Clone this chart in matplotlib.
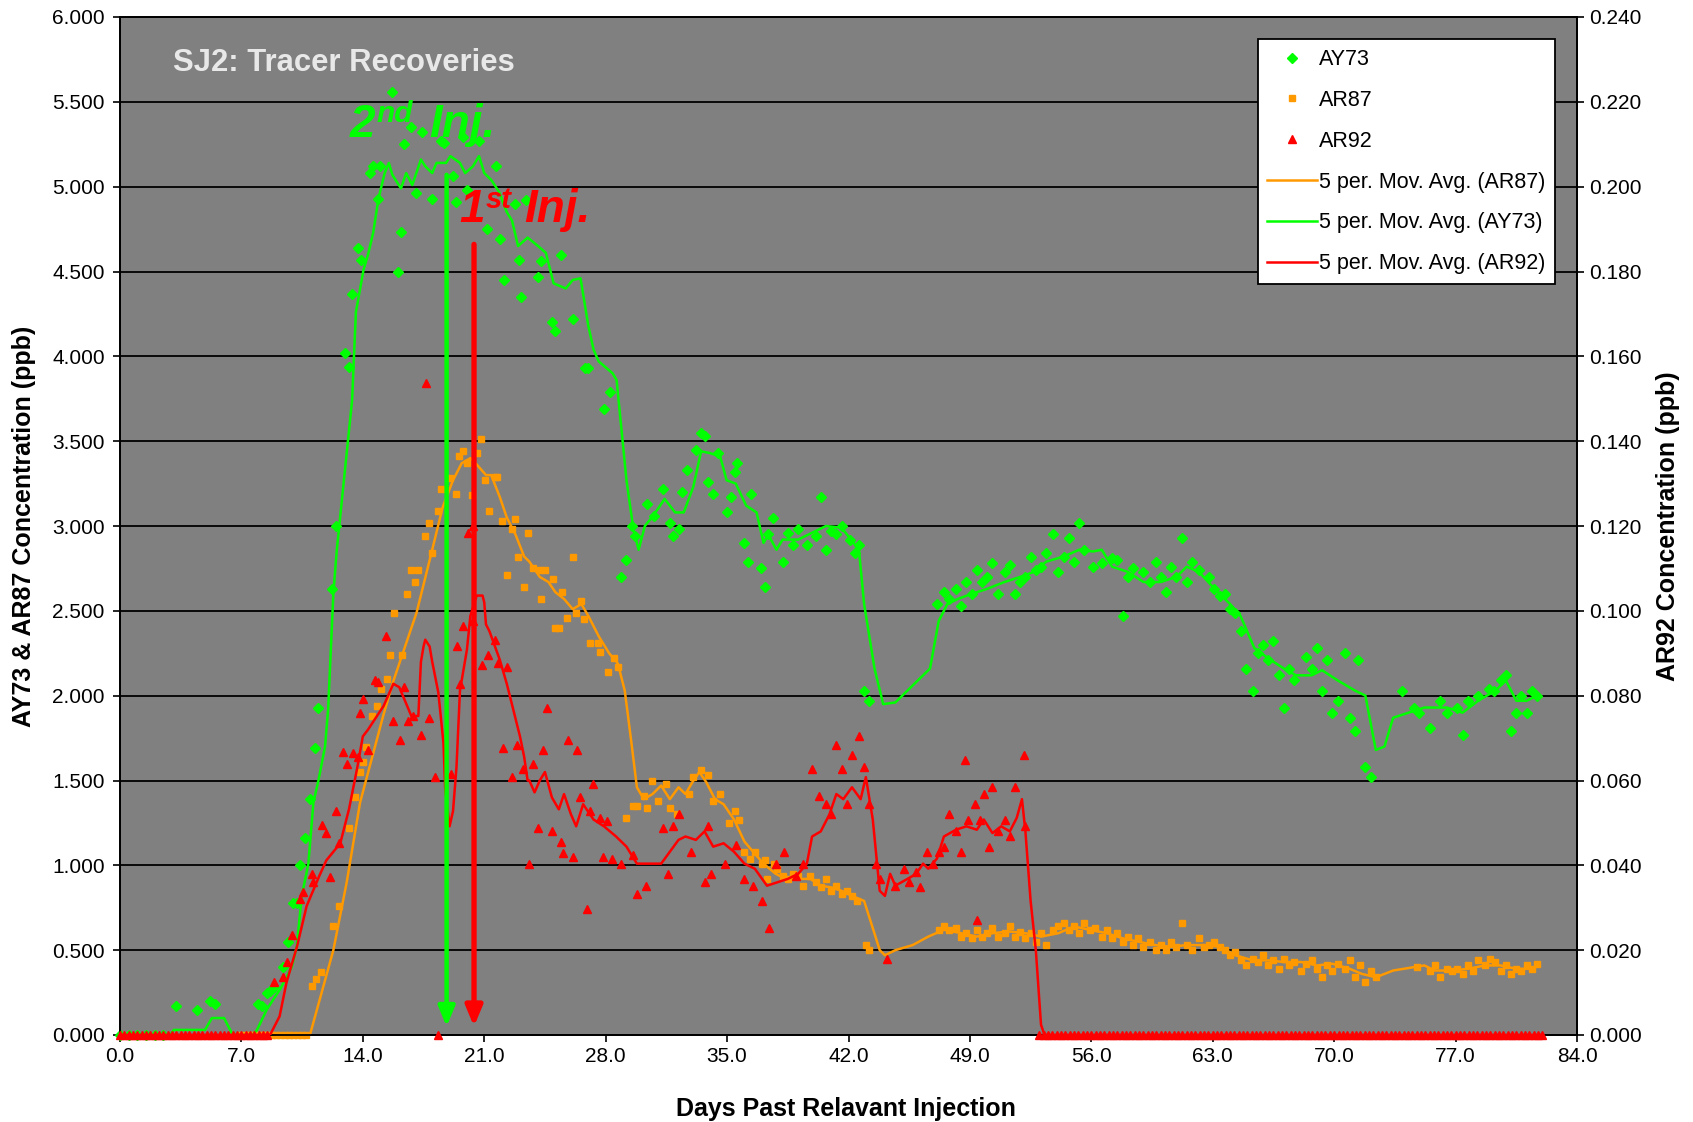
import numpy as np
import matplotlib
matplotlib.use("Agg")
import matplotlib.pyplot as plt

plt.rcParams['font.family'] = ['Liberation Sans', 'DejaVu Sans']

GREEN = '#00FF00'
ORANGE = '#FF9900'
RED = '#FF0000'
BG = '#808080'

# ---------------- data ----------------
# AY73 (left axis, ppb)
ay73_days = [0.0, 0.5, 1.0, 1.5, 2.0, 2.5,
             3.24, 4.42, 5.2, 5.45, 7.98, 8.17, 8.46, 8.65, 8.88, 9.38, 9.71, 10.0, 10.19, 10.38,
             10.67, 10.96, 11.25, 11.44, 12.21, 12.44, 13.0, 13.2, 13.4, 13.75, 13.9, 14.4, 14.6,
             14.9, 15.0, 15.7, 16.0, 16.2, 16.4, 16.75, 17.05, 17.4, 18.0, 18.5, 18.7, 19.2, 19.4,
             19.8, 20.0, 20.7, 21.15, 21.7, 21.9, 22.15, 22.8, 23.0, 23.1, 23.4, 24.1, 24.3, 24.9,
             25.1, 25.45, 26.1, 26.8, 27.0, 27.9, 28.24, 28.86, 29.2, 29.5, 29.7, 30.4, 30.8, 31.3,
             31.7, 31.9, 32.2, 32.4, 32.7, 33.2, 33.5, 33.7, 33.9, 34.2, 34.5, 34.97, 35.2, 35.45,
             35.6, 35.99, 36.2, 36.4, 36.98, 37.2, 37.37, 37.66, 38.2, 38.5, 38.8, 39.1, 39.6, 40.1,
             40.4, 40.7, 41.0, 41.3, 41.6, 42.1, 42.4, 42.6, 42.9, 43.2,
             47.1, 47.5, 47.8, 48.2, 48.5, 48.8, 49.1, 49.4, 49.7, 50.0, 50.3, 50.6, 51.0, 51.3,
             51.6, 51.9, 52.2, 52.5, 52.8, 53.1, 53.4, 53.8, 54.1, 54.4, 54.7, 55.0, 55.3, 55.6,
             56.1, 56.6, 57.2, 57.5, 57.8, 58.1, 58.4, 59.0, 59.4, 59.7, 60.0, 60.3, 60.6, 60.9,
             61.2, 61.5, 61.8, 62.2, 62.8, 63.1, 63.4, 63.7, 64.0, 64.3, 64.6, 64.9, 65.3, 65.6,
             65.9, 66.2, 66.5, 66.8, 67.1, 67.4, 67.7, 68.4, 68.7, 69.0, 69.3, 69.6, 69.9, 70.2,
             70.6, 70.9, 71.2, 71.4, 71.8, 72.1, 73.9, 74.6, 74.9, 75.5, 76.1, 76.5, 77.1, 77.4,
             77.7, 78.3, 78.9, 79.2, 79.6, 79.9, 80.2, 80.5, 80.8, 81.1, 81.4, 81.7]
ay73_vals = [0.0, 0.0, 0.0, 0.0, 0.0, 0.0,
             0.17, 0.145, 0.20, 0.18, 0.18, 0.17, 0.25, 0.26, 0.28, 0.40, 0.55, 0.78, 0.78, 1.0,
             1.16, 1.39, 1.69, 1.93, 2.63, 3.0, 4.02, 3.94, 4.37, 4.64, 4.57, 5.08, 5.12,
             4.93, 5.12, 5.56, 4.50, 4.73, 5.25, 5.35, 4.96, 5.32, 4.93, 5.27, 5.26, 5.06, 4.91,
             5.29, 4.98, 5.27, 4.75, 5.12, 4.69, 4.45, 4.90, 4.57, 4.35, 4.92, 4.47, 4.56, 4.20,
             4.15, 4.60, 4.22, 3.93, 3.93, 3.69, 3.79, 2.70, 2.80, 3.0, 2.94, 3.13, 3.06, 3.22,
             3.02, 2.94, 2.98, 3.20, 3.33, 3.45, 3.55, 3.53, 3.26, 3.19, 3.43, 3.08, 3.17, 3.32,
             3.37, 2.90, 2.79, 3.19, 2.75, 2.64, 2.95, 3.05, 2.79, 2.96, 2.89, 2.98, 2.89, 2.94,
             3.17, 2.86, 2.97, 2.95, 3.0, 2.92, 2.84, 2.89, 2.03, 1.97,
             2.54, 2.61, 2.57, 2.63, 2.53, 2.67, 2.60, 2.74, 2.67, 2.70, 2.78, 2.60, 2.73, 2.77,
             2.60, 2.67, 2.70, 2.82, 2.74, 2.76, 2.84, 2.95, 2.73, 2.82, 2.93, 2.79, 3.02, 2.86,
             2.76, 2.78, 2.81, 2.80, 2.47, 2.70, 2.75, 2.73, 2.67, 2.79, 2.70, 2.61, 2.76, 2.70,
             2.93, 2.67, 2.79, 2.74, 2.70, 2.63, 2.59, 2.60, 2.51, 2.49, 2.38, 2.16, 2.03, 2.25,
             2.30, 2.21, 2.32, 2.12, 1.93, 2.16, 2.09, 2.23, 2.16, 2.28, 2.03, 2.21, 1.90, 1.97,
             2.25, 1.87, 1.79, 2.21, 1.58, 1.52, 2.03, 1.93, 1.90, 1.81, 1.97, 1.90, 1.93, 1.77,
             1.97, 2.00, 2.04, 2.03, 2.09, 2.12, 1.79, 1.90, 2.00, 1.90, 2.03, 2.00]

ay73_ma_days = [0.0, 2.9, 3.1, 4.9, 5.3, 6.0, 6.5, 7.65, 7.9, 8.46, 9.23, 9.9, 10.19, 10.48, 10.86,
                11.15, 11.44, 11.82, 12.0, 12.3, 12.5, 13.38, 13.6, 14.04, 14.3, 14.6, 14.9, 15.26,
                15.5, 15.7, 16.2, 16.5, 16.85, 17.35, 17.6, 18.0, 18.25, 18.8, 19.05, 19.6, 19.9,
                20.35, 20.7, 21.0, 21.4, 21.85, 22.3, 22.6, 22.95, 23.5, 24.1, 24.55, 25.0, 25.7,
                26.1, 26.55, 27.0, 27.3, 27.6, 28.4, 28.63, 29.2, 29.6, 29.9, 30.26, 30.74, 31.4,
                32.0, 32.5, 33.05, 33.5, 34.0, 34.6, 34.97, 35.5, 36.1, 36.7, 37.1, 37.37, 37.85,
                38.2, 39.1, 40.1, 40.7, 41.6, 42.6, 42.9, 43.5, 44.0, 44.7, 46.7, 47.2, 47.7, 48.3,
                49.1, 50.0, 51.0, 51.9, 52.7, 53.4, 54.4, 55.3, 56.1, 56.6, 57.2, 58.1, 59.0, 60.0,
                60.9, 61.5, 62.2, 63.1, 64.0, 64.6, 65.4, 66.2, 67.1, 67.8, 68.7, 69.3, 70.2, 71.2,
                71.8, 72.4, 72.9, 73.4, 74.3, 75.2, 76.5, 77.4, 78.3, 79.3, 79.9, 80.5, 81.1, 81.7]
ay73_ma_vals = [0.0, 0.0, 0.03, 0.03, 0.10, 0.10, 0.0, 0.0, 0.03, 0.15, 0.27, 0.40, 0.52, 0.82, 1.01,
                1.37, 1.50, 1.70, 1.92, 2.60, 2.86, 3.74, 4.26, 4.51, 4.60, 4.73, 4.93, 5.08,
                5.14, 5.07, 4.99, 5.08, 5.01, 5.16, 5.12, 5.08, 5.14, 5.14, 5.18, 5.14, 5.08,
                5.12, 5.18, 5.08, 5.04, 4.97, 4.85, 4.80, 4.65, 4.70, 4.65, 4.61, 4.43, 4.40,
                4.45, 4.46, 4.18, 4.04, 3.97, 3.90, 3.86, 3.27, 2.98, 2.86, 3.00, 3.06, 3.16,
                3.08, 3.08, 3.23, 3.44, 3.43, 3.41, 3.27, 3.25, 3.12, 3.08, 2.90, 2.95, 2.86,
                2.92, 2.92, 2.97, 3.00, 2.99, 2.86, 2.54, 2.16, 1.95, 1.96, 2.16, 2.44, 2.54, 2.57,
                2.60, 2.63, 2.67, 2.70, 2.73, 2.79, 2.82, 2.86, 2.85, 2.86, 2.76, 2.73, 2.67, 2.67,
                2.70, 2.76, 2.73, 2.63, 2.54, 2.47, 2.28, 2.22, 2.16, 2.12, 2.12, 2.15, 2.09, 2.03,
                2.00, 1.68, 1.70, 1.87, 1.90, 1.93, 1.93, 1.90, 1.97, 2.03, 2.09, 1.97, 1.97, 2.00]

# AR87 (left axis, ppb)
ar87_days = [7.0, 7.25, 7.5, 7.75, 8.0, 8.25, 8.5, 8.75, 9.0, 9.25, 9.5, 9.75, 10.0, 10.25, 10.5, 10.75,
             11.05, 11.3, 11.6, 12.3, 12.65, 13.2, 13.55, 13.84, 14.0, 14.2, 14.55, 14.8, 15.05,
             15.4, 15.57, 15.8, 16.24, 16.57, 16.8, 17.0, 17.2, 17.6, 17.8, 18.0, 18.35, 18.5,
             19.0, 19.4, 19.56, 19.8, 20.0, 20.27, 20.6, 20.8, 21.04, 21.3, 21.6, 21.75, 22.0,
             22.3, 22.6, 22.8, 22.96, 23.3, 23.5, 23.8, 24.2, 24.3, 24.5, 24.98, 25.1, 25.3, 25.5,
             25.75, 26.1, 26.3, 26.55, 26.75, 27.1, 27.57, 27.7, 28.15, 28.5, 28.7, 29.17, 29.6,
             29.8, 30.2, 30.4, 30.7, 31.03, 31.5, 31.7, 32.1, 32.8, 33.05, 33.47, 33.9, 34.2, 34.6,
             35.1, 35.45, 35.7, 36.0, 36.3, 36.6, 37.0, 37.2, 37.3, 37.7, 37.9, 38.2, 38.5, 38.8,
             39.1, 39.4, 39.8, 40.1, 40.4, 40.7, 41.0, 41.3, 41.6, 41.9, 42.2, 42.5, 43.0, 43.2,
             47.2, 47.5, 47.8, 48.2, 48.5, 48.8, 49.1, 49.4, 49.7, 50.0, 50.3, 50.6, 51.0, 51.3,
             51.6, 51.9, 52.2, 52.5, 52.8, 53.1, 53.4, 53.8, 54.1, 54.4, 54.7, 55.0, 55.3, 55.6,
             55.9, 56.2, 56.6, 56.9, 57.2, 57.5, 57.8, 58.1, 58.4, 58.7, 59.0, 59.4, 59.7, 60.0,
             60.3, 60.6, 60.9, 61.2, 61.5, 61.8, 62.2, 62.5, 62.8, 63.1, 63.4, 63.7, 64.0, 64.3,
             64.6, 64.9, 65.3, 65.6, 65.9, 66.2, 66.5, 66.8, 67.1, 67.4, 67.7, 68.1, 68.4, 68.7,
             69.0, 69.3, 69.6, 69.9, 70.2, 70.6, 70.9, 71.2, 71.5, 71.8, 72.1, 72.4, 74.8, 75.5,
             75.8, 76.1, 76.5, 76.8, 77.1, 77.4, 77.7, 78.0, 78.3, 78.7, 79.0, 79.3, 79.6, 79.9,
             80.2, 80.5, 80.8, 81.1, 81.4, 81.7]
ar87_vals = [0.0, 0.0, 0.0, 0.0, 0.0, 0.0, 0.0, 0.0, 0.0, 0.0, 0.0, 0.0, 0.0, 0.0, 0.0, 0.0,
             0.29, 0.33, 0.37, 0.645, 0.76, 1.22, 1.40, 1.55, 1.61, 1.70, 1.88, 1.94, 2.04,
             2.10, 2.24, 2.49, 2.24, 2.60, 2.74, 2.67, 2.74, 2.94, 3.02, 2.84, 3.09, 3.22,
             3.28, 3.19, 3.41, 3.44, 3.37, 3.18, 3.43, 3.51, 3.27, 3.09, 3.29, 3.29, 3.03,
             2.71, 2.98, 3.04, 2.82, 2.64, 2.96, 2.75, 2.74, 2.57, 2.74, 2.69, 2.40, 2.40, 2.61,
             2.46, 2.82, 2.49, 2.56, 2.45, 2.31, 2.31, 2.26, 2.14, 2.22, 2.17, 1.28, 1.35,
             1.35, 1.41, 1.34, 1.50, 1.38, 1.48, 1.34, 1.30, 1.42, 1.52, 1.56, 1.53, 1.38, 1.42,
             1.25, 1.32, 1.27, 1.08, 1.04, 1.08, 1.01, 1.03, 0.92, 1.01, 0.98, 0.94, 0.92, 0.95,
             0.94, 0.88, 0.94, 0.90, 0.87, 0.92, 0.85, 0.88, 0.83, 0.85, 0.82, 0.79, 0.53, 0.50,
             0.62, 0.64, 0.62, 0.63, 0.58, 0.60, 0.57, 0.62, 0.58, 0.60, 0.63, 0.58, 0.60, 0.64,
             0.58, 0.61, 0.57, 0.60, 0.55, 0.60, 0.53, 0.62, 0.64, 0.66, 0.62, 0.64, 0.60, 0.66,
             0.62, 0.63, 0.58, 0.62, 0.57, 0.60, 0.55, 0.58, 0.53, 0.57, 0.52, 0.55, 0.50, 0.53,
             0.50, 0.55, 0.52, 0.66, 0.53, 0.50, 0.57, 0.52, 0.53, 0.55, 0.52, 0.50, 0.47, 0.49,
             0.44, 0.41, 0.45, 0.43, 0.47, 0.41, 0.44, 0.39, 0.45, 0.41, 0.43, 0.38, 0.42, 0.44,
             0.39, 0.34, 0.41, 0.38, 0.42, 0.39, 0.44, 0.34, 0.41, 0.31, 0.38, 0.34, 0.40, 0.38,
             0.41, 0.34, 0.39, 0.38, 0.39, 0.36, 0.41, 0.38, 0.44, 0.41, 0.45, 0.43, 0.38, 0.41,
             0.36, 0.39, 0.38, 0.41, 0.39, 0.42]

ar87_ma_days = [7.0, 10.95, 12.3, 13.07, 13.84, 15.17, 15.74, 17.1, 18.0, 18.6, 19.2, 19.7, 20.2,
                20.5, 21.1, 21.4, 21.9, 22.3, 22.8, 23.3, 23.6, 24.2, 24.7, 25.1, 25.6, 26.1, 26.6,
                27.0, 27.6, 28.2, 28.7, 29.1, 29.5, 29.8, 30.2, 30.7, 31.2, 31.7, 32.2, 32.6, 33.0,
                33.4, 33.8, 34.3, 34.8, 35.4, 36.0, 36.5, 37.1, 37.8, 38.4, 39.1, 39.8, 40.4, 41.0,
                41.6, 42.2, 42.9, 43.4, 43.8, 44.1, 44.7, 45.7, 46.6, 47.5, 48.5, 49.4, 50.3, 51.3,
                52.2, 53.1, 54.1, 55.0, 55.9, 56.9, 57.8, 58.7, 59.7, 60.6, 61.5, 62.5, 63.4, 64.3,
                65.3, 66.2, 67.1, 68.1, 69.0, 69.9, 70.9, 71.6, 72.4, 73.4, 74.0, 75.2, 75.8, 76.8,
                77.7, 78.7, 79.6, 80.5, 81.4, 81.7]
ar87_ma_vals = [0.0, 0.0, 0.50, 0.90, 1.37, 1.88, 2.08, 2.49, 2.86, 3.11, 3.27, 3.37, 3.40,
                3.37, 3.30, 3.30, 3.17, 3.05, 2.95, 2.82, 2.79, 2.70, 2.67, 2.61, 2.57, 2.51, 2.54,
                2.47, 2.35, 2.25, 2.19, 2.03, 1.71, 1.46, 1.39, 1.42, 1.47, 1.39, 1.46, 1.42, 1.49,
                1.55, 1.49, 1.39, 1.36, 1.27, 1.14, 1.08, 1.01, 0.95, 0.92, 0.92, 0.92, 0.88, 0.87,
                0.85, 0.82, 0.79, 0.63, 0.50, 0.47, 0.50, 0.53, 0.58, 0.62, 0.60, 0.58, 0.60, 0.61,
                0.60, 0.58, 0.60, 0.64, 0.62, 0.60, 0.57, 0.55, 0.53, 0.52, 0.53, 0.53, 0.52, 0.47,
                0.44, 0.44, 0.43, 0.43, 0.41, 0.42, 0.39, 0.36, 0.34, 0.38, 0.39, 0.41, 0.38, 0.38,
                0.39, 0.41, 0.41, 0.39, 0.39, 0.41]

# AR92 (right axis, ppb): zero readings before breakthrough, measured values, zero readings after
ar92_early_zero_days = [0.0, 0.25, 0.5, 0.75, 1.0, 1.25, 1.5, 1.75, 2.0, 2.25, 2.5, 2.75, 3.0, 3.25,
                        3.5, 3.75, 4.0, 4.25, 4.5, 4.75, 5.0, 5.25, 5.5, 5.75, 6.0, 6.25, 6.5, 6.75,
                        7.0, 7.25, 7.5, 7.75, 8.0, 8.25, 8.5]
ar92_late_zero_days = [53.0, 53.25, 53.5, 53.75, 54.0, 54.25, 54.5, 54.75, 55.0, 55.25, 55.5, 55.75,
                       56.0, 56.25, 56.5, 56.75, 57.0, 57.25, 57.5, 57.75, 58.0, 58.25, 58.5, 58.75,
                       59.0, 59.25, 59.5, 59.75, 60.0, 60.25, 60.5, 60.75, 61.0, 61.25, 61.5, 61.75,
                       62.0, 62.25, 62.5, 62.75, 63.0, 63.25, 63.5, 63.75, 64.0, 64.25, 64.5, 64.75,
                       65.0, 65.25, 65.5, 65.75, 66.0, 66.25, 66.5, 66.75, 67.0, 67.25, 67.5, 67.75,
                       68.0, 68.25, 68.5, 68.75, 69.0, 69.25, 69.5, 69.75, 70.0, 70.25, 70.5, 70.75,
                       71.0, 71.25, 71.5, 71.75, 72.0, 72.25, 72.5, 72.75, 73.0, 73.25, 73.5, 73.75,
                       74.0, 74.25, 74.5, 74.75, 75.0, 75.25, 75.5, 75.75, 76.0, 76.25, 76.5, 76.75,
                       77.0, 77.25, 77.5, 77.75, 78.0, 78.25, 78.5, 78.75, 79.0, 79.25, 79.5, 79.75,
                       80.0, 80.25, 80.5, 80.75, 81.0, 81.25, 81.5, 81.75, 82.0]
ar92_days = [8.85, 9.38, 9.6, 9.9, 10.38, 10.57, 11.05, 11.15, 11.63, 11.88, 12.11, 12.44, 12.6,
             12.84, 13.1, 13.46, 13.74, 13.84, 14.03, 14.32, 14.7, 14.9, 15.34, 15.76, 16.15,
             16.38, 16.63, 16.91, 17.34, 17.64, 17.84, 18.16, 18.35, 19.1, 19.41, 19.6, 19.8,
             20.08, 20.33, 20.37, 20.85, 21.2, 21.6, 21.8, 22.1, 22.3, 22.6, 22.9, 23.25, 23.6,
             23.8, 24.1, 24.4, 24.6, 24.9, 25.4, 25.55, 25.84, 26.1, 26.36, 26.5, 26.9, 27.1,
             27.28, 27.7, 27.86, 28.05, 28.34, 28.9, 29.6, 29.8, 30.3, 31.3, 31.6, 31.9, 32.2,
             32.9, 33.7, 33.9, 34.1, 34.9, 35.5, 36.0, 36.5, 37.0, 37.4, 37.8, 38.3, 39.0, 39.4,
             39.9, 40.3, 40.7, 41.0, 41.3, 41.6, 41.9, 42.2, 42.6, 42.9, 43.2, 43.6, 43.8, 44.2,
             44.7, 45.2, 45.5, 45.9, 46.1, 46.5, 46.9, 47.2, 47.5, 47.8, 48.2, 48.5, 48.7, 48.9,
             49.3, 49.4, 49.6, 49.8, 50.1, 50.3, 50.6, 51.0, 51.3, 51.6, 52.1, 52.2]
ar92_vals = [0.0124, 0.0136, 0.0172, 0.0236, 0.0320, 0.0336, 0.0380, 0.0360, 0.0496, 0.0476, 0.0372,
             0.0528, 0.0452, 0.0668, 0.0640, 0.0664, 0.0656, 0.0760, 0.0792, 0.0672, 0.0836,
             0.0832, 0.0940, 0.0740, 0.0696, 0.0820, 0.0740, 0.0752, 0.0708, 0.1536, 0.0748,
             0.0608, 0.0, 0.0616, 0.0916, 0.0828, 0.0964, 0.1184, 0.1200, 0.0976, 0.0872,
             0.0896, 0.0932, 0.0876, 0.0676, 0.0868, 0.0608, 0.0684, 0.0628, 0.0404, 0.0640,
             0.0488, 0.0672, 0.0772, 0.0480, 0.0456, 0.0428, 0.0696, 0.0420, 0.0672, 0.0560,
             0.0296, 0.0528, 0.0592, 0.0512, 0.0420, 0.0504, 0.0416, 0.0404, 0.0424, 0.0332,
             0.0352, 0.0488, 0.0380, 0.0492, 0.0520, 0.0432, 0.0360, 0.0492, 0.0380, 0.0404,
             0.0448, 0.0368, 0.0352, 0.0316, 0.0252, 0.0404, 0.0432, 0.0376, 0.0404, 0.0628,
             0.0564, 0.0544, 0.0520, 0.0684, 0.0628, 0.0544, 0.0660, 0.0704, 0.0632, 0.0544,
             0.0404, 0.0368, 0.0180, 0.0352, 0.0392, 0.0360, 0.0384, 0.0348, 0.0432, 0.0404,
             0.0432, 0.0444, 0.0520, 0.0480, 0.0432, 0.0648, 0.0508, 0.0544, 0.0272, 0.0508,
             0.0568, 0.0444, 0.0584, 0.0480, 0.0508, 0.0468, 0.0584, 0.0660, 0.0492]

ar92_ma_days = [0.0, 8.65, 9.2, 9.6, 10.2, 10.76, 11.5, 11.9, 12.7, 13.2, 13.65, 14.0, 14.3, 15.2,
                15.76, 16.1, 16.8, 17.2, 17.35, 17.5, 17.6, 17.85, 18.0, 18.35, 18.65, 18.75, 19.0,
                19.2, 19.4, 19.6, 20.0, 20.2, 20.56, 20.9, 21.0, 21.1, 21.3, 21.9, 22.3, 23.06,
                23.3, 23.5, 23.6, 23.9, 24.2, 24.5, 24.9, 25.3, 25.6, 26.0, 26.3, 26.7, 27.3, 27.9,
                28.6, 29.2, 29.8, 30.4, 31.2, 31.7, 32.2, 32.6, 33.2, 33.7, 34.2, 34.8, 35.4, 36.0,
                36.6, 37.3, 37.9, 38.5, 39.1, 39.6, 39.9, 40.4, 40.9, 41.3, 41.7, 42.2, 42.7, 43.0,
                43.4, 43.8, 44.1, 44.4, 44.7, 45.4, 45.9, 46.3, 46.6, 47.1, 47.5, 48.2, 48.8, 49.4,
                49.8, 50.3, 50.8, 51.3, 51.7, 52.0, 52.2, 52.5, 52.8, 53.1, 53.3, 82.0]
ar92_ma_vals = [0.0, 0.0, 0.0044, 0.0124, 0.0208, 0.0304, 0.0376, 0.0412, 0.0452, 0.0532, 0.0624,
                0.0704, 0.0720, 0.0776, 0.0828, 0.0820, 0.0752, 0.0752, 0.0880, 0.0916, 0.0932,
                0.0916, 0.0880, 0.0808, 0.0688, 0.0580, 0.0492, 0.0528, 0.0632, 0.0812, 0.0908,
                0.0988, 0.1036, 0.1036, 0.1020, 0.0968, 0.0952, 0.0884, 0.0828, 0.0704, 0.0656,
                0.0600, 0.0600, 0.0572, 0.0600, 0.0620, 0.0560, 0.0532, 0.0568, 0.0520, 0.0492,
                0.0544, 0.0508, 0.0492, 0.0468, 0.0444, 0.0404, 0.0404, 0.0404, 0.0432, 0.0460,
                0.0468, 0.0460, 0.0480, 0.0444, 0.0452, 0.0432, 0.0404, 0.0392, 0.0352, 0.0360,
                0.0368, 0.0380, 0.0404, 0.0468, 0.0480, 0.0520, 0.0568, 0.0556, 0.0584, 0.0556,
                0.0608, 0.0508, 0.0340, 0.0328, 0.0380, 0.0352, 0.0368, 0.0380, 0.0404, 0.0392,
                0.0416, 0.0468, 0.0484, 0.0492, 0.0484, 0.0508, 0.0476, 0.0492, 0.0480, 0.0512,
                0.0556, 0.0480, 0.0316, 0.0200, 0.0024, 0.0, 0.0]

x_ticks = [0, 7, 14, 21, 28, 35, 42, 49, 56, 63, 70, 77, 84]
y_left_ticks = [0.0, 0.5, 1.0, 1.5, 2.0, 2.5, 3.0, 3.5, 4.0, 4.5, 5.0, 5.5, 6.0]
y_right_ticks = [0.0, 0.02, 0.04, 0.06, 0.08, 0.10, 0.12, 0.14, 0.16, 0.18, 0.20, 0.22, 0.24]

# injection markers (day, top of arrow on left axis)
inj2_day, inj2_top = 18.83, 5.07
inj1_day, inj1_top = 20.41, 4.66

# ---------------- figure ----------------
W, H = 1693, 1122
fig = plt.figure(figsize=(W / 100, H / 100), dpi=100)
fig.patch.set_facecolor('white')
ax = fig.add_axes([120 / W, (H - 1035) / H, (1577 - 120) / W, (1035 - 17) / H])
ax.set_facecolor(BG)
ax.set_xlim(0, 84)
ax.set_ylim(0, 6)
ax.set_xticks(x_ticks)
ax.set_xticklabels([f"{t:.1f}" for t in x_ticks])
ax.set_yticks(y_left_ticks)
ax.set_yticklabels([f"{t:.3f}" for t in y_left_ticks])
ax.yaxis.grid(True, color='black', lw=1.3)
ax.xaxis.grid(False)
ax.set_axisbelow(True)
for s in ax.spines.values():
    s.set_color('black')
    s.set_linewidth(1.3)
ax.tick_params(axis='x', direction='out', length=5, width=1.2, labelsize=15, pad=4)
ax.tick_params(axis='y', direction='out', length=5, width=1.2, labelsize=15, pad=6)

h_ay = ax.plot(ay73_days, ay73_vals, ls='none', marker='D', ms=4.6, mfc=GREEN, mec=GREEN,
               clip_on=False, zorder=3, label='AY73')[0]
h_ar87 = ax.plot(ar87_days, ar87_vals, ls='none', marker='s', ms=4.8, mfc=ORANGE, mec=ORANGE,
                 clip_on=False, zorder=3, label='AR87')[0]
h_ar87_ma = ax.plot(ar87_ma_days, ar87_ma_vals, color=ORANGE, lw=1.8, zorder=4,
                    label='5 per. Mov. Avg. (AR87)')[0]
h_ay_ma = ax.plot(ay73_ma_days, ay73_ma_vals, color=GREEN, lw=1.8, zorder=4,
                  label='5 per. Mov. Avg. (AY73)')[0]

ax2 = ax.twinx()
ax2.set_ylim(0, 0.24)
ax2.set_yticks(y_right_ticks)
ax2.set_yticklabels([f"{t:.3f}" for t in y_right_ticks])
ax2.tick_params(axis='y', direction='out', length=5, width=1.2, labelsize=15, pad=4)
for s in ax2.spines.values():
    s.set_color('black')
    s.set_linewidth(1.3)

zero_days = ar92_early_zero_days + ar92_late_zero_days
ax2.plot(zero_days, [0.0] * len(zero_days), ls='none', marker='^', ms=5.6, mfc=RED, mec=RED,
         clip_on=False, zorder=3)
h_ar92 = ax2.plot(ar92_days, ar92_vals, ls='none', marker='^', ms=5.6, mfc=RED, mec=RED,
                  clip_on=False, zorder=3, label='AR92')[0]
h_ar92_ma = ax2.plot(ar92_ma_days, ar92_ma_vals, color=RED, lw=1.8, zorder=4,
                     label='5 per. Mov. Avg. (AR92)')[0]

# injection arrows
for d, top, col, lw in [(inj2_day, inj2_top, GREEN, 3.2), (inj1_day, inj1_top, RED, 3.8)]:
    ax2.annotate('', xy=(d, 0.05), xycoords=ax.transData, xytext=(d, top), textcoords=ax.transData,
                 arrowprops=dict(arrowstyle='-|>,head_length=0.6,head_width=0.25',
                                 mutation_scale=20, lw=lw, color=col, shrinkA=0, shrinkB=0),
                 zorder=6)

# injection labels
txt_kw = dict(xycoords=ax.transData, textcoords='offset points', fontweight='bold',
              fontstyle='italic', ha='left', va='baseline', zorder=7)
ax2.annotate('2', xy=(13.27, 5.295), xytext=(0, 0), fontsize=33, color=GREEN, **txt_kw)
ax2.annotate('nd', xy=(13.27, 5.295), xytext=(19, 10.5), fontsize=21.5, color=GREEN, **txt_kw)
ax2.annotate('Inj.', xy=(13.27, 5.295), xytext=(57, 0), fontsize=33, color=GREEN, **txt_kw)
ax2.annotate('1', xy=(19.55, 4.79), xytext=(0, 0), fontsize=33, color=RED, **txt_kw)
ax2.annotate('st', xy=(19.55, 4.79), xytext=(19, 10), fontsize=21, color=RED, **txt_kw)
ax2.annotate('Inj.', xy=(19.55, 4.79), xytext=(47, 0), fontsize=33, color=RED, **txt_kw)

# title inside plot
ax.text(0.0362, 0.947, 'SJ2: Tracer Recoveries', transform=ax.transAxes, fontsize=22.3,
        fontweight='bold', color='#E8E8E8', ha='left', va='baseline', zorder=8)

# axis labels
fig.text(846 / W, 1 - 1109 / H, 'Days Past Relavant Injection', fontsize=18, fontweight='bold',
         ha='center', va='center')
fig.text(24 / W, 1 - 526 / H, 'AY73 & AR87 Concentration (ppb)', fontsize=18, fontweight='bold',
         rotation=90, ha='center', va='center')
fig.text(1668 / W, 1 - 526 / H, 'AR92 Concentration (ppb)', fontsize=18, fontweight='bold',
         rotation=90, ha='center', va='center')

leg = ax2.legend([h_ay, h_ar87, h_ar92, h_ar87_ma, h_ay_ma, h_ar92_ma],
                 ['AY73', 'AR87', 'AR92', '5 per. Mov. Avg. (AR87)', '5 per. Mov. Avg. (AY73)',
                  '5 per. Mov. Avg. (AR92)'],
                 loc='upper right', bbox_to_anchor=(0.985, 0.978), fontsize=15.5, numpoints=1,
                 fancybox=False, shadow=False, framealpha=1, edgecolor='black',
                 handlelength=2.3, handletextpad=0.1, labelspacing=0.92, borderpad=0.45,
                 borderaxespad=0)
leg.get_frame().set_linewidth(1.3)
leg.set_zorder(10)

fig.savefig('out.png', dpi=100, facecolor='white')
